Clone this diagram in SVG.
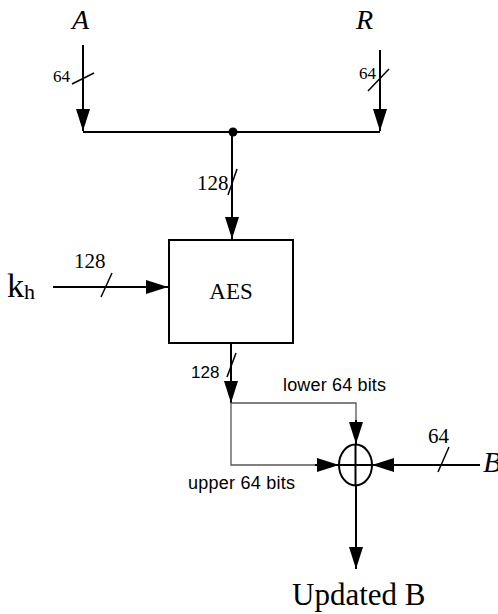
<svg xmlns="http://www.w3.org/2000/svg" width="498" height="614" viewBox="0 0 498 614">
<style>
.w{stroke:#000;stroke-width:2;fill:none}
.t{stroke:#555;stroke-width:1.3;fill:none}
.s{stroke:#000;stroke-width:1.5;fill:none}
.serif{font-family:"Liberation Serif","Times New Roman",serif;fill:#000}
.sans{font-family:"Liberation Sans",Arial,sans-serif;fill:#000}
.it{font-style:italic}
</style>
<defs>
<marker id="ah" markerUnits="userSpaceOnUse" markerWidth="23" markerHeight="15" refX="22" refY="7.5" orient="auto" viewBox="0 0 23 15">
<path d="M0,0.5 L22,7.5 L0,14.5 z" fill="#000"/>
</marker>
</defs>
<rect width="498" height="614" fill="#fff"/>
<g id="connectors">
<line class="w" x1="83" y1="45" x2="83" y2="131" marker-end="url(#ah)"/>
<line class="s" x1="72" y1="84" x2="94" y2="73"/>
<text class="serif" x="53" y="82" font-size="17">64</text>
<line class="w" x1="380" y1="50" x2="380" y2="131" marker-end="url(#ah)"/>
<line class="s" x1="368" y1="91" x2="389" y2="69"/>
<text class="serif" x="359" y="79" font-size="17">64</text>
<line class="w" x1="83" y1="132" x2="380" y2="132"/>
<line class="w" x1="232" y1="132" x2="232" y2="239" marker-end="url(#ah)"/>
<line class="s" x1="228" y1="195" x2="237" y2="169"/>
<text class="serif" x="197" y="190" font-size="21">128</text>
<line class="w" x1="53" y1="287" x2="168" y2="287" marker-end="url(#ah)"/>
<line class="s" x1="101" y1="297" x2="112" y2="273"/>
<text class="serif" x="74" y="268" font-size="21">128</text>
<line class="w" x1="231" y1="344" x2="231" y2="403" marker-end="url(#ah)"/>
<line class="s" x1="227" y1="377" x2="236" y2="353"/>
<text class="sans" x="191" y="378" font-size="17">128</text>
<polyline class="t" points="231,403 356,403 356,444"/>
<line class="w" x1="356" y1="420" x2="356" y2="444" marker-end="url(#ah)" stroke-width="1"/>
<polyline class="t" points="231,403 231,465 339,465"/>
<line class="w" x1="315" y1="465" x2="339" y2="465" marker-end="url(#ah)" stroke-width="1"/>
<text class="sans" x="283" y="391" font-size="18" textLength="103">lower 64 bits</text>
<text class="sans" x="188" y="489" font-size="18" textLength="107">upper 64 bits</text>
<line class="w" x1="480" y1="465" x2="372" y2="465" marker-end="url(#ah)"/>
<line class="s" x1="438" y1="472" x2="449" y2="447"/>
<text class="serif" x="428" y="443" font-size="21">64</text>
<line class="w" x1="356" y1="486" x2="356" y2="569" marker-end="url(#ah)"/>
<circle cx="233" cy="132" r="4.5" fill="#000"/>
</g>
<g id="A"><text class="serif it" x="72" y="29" font-size="28">A</text></g>
<g id="R"><text class="serif it" x="356" y="29" font-size="28">R</text></g>
<g id="kh"><text class="serif" x="7" y="297" font-size="34">k<tspan font-size="22" dy="2">h</tspan></text></g>
<g id="AES">
<rect x="169" y="240" width="124" height="103" fill="#fff" stroke="#000" stroke-width="2"/>
<text class="serif" x="231" y="299" font-size="23" text-anchor="middle">AES</text>
</g>
<g id="XOR">
<ellipse cx="355.5" cy="465" rx="16.5" ry="20.5" fill="#fff" stroke="#000" stroke-width="2"/>
<line class="w" x1="355.5" y1="444.5" x2="355.5" y2="485.5"/>
<line class="w" x1="339" y1="465" x2="372" y2="465"/>
</g>
<g id="B"><text class="serif it" x="483" y="472" font-size="30">B</text></g>
<g id="UpdatedB"><text class="serif" x="292" y="605" font-size="31">Updated B</text></g>
</svg>
